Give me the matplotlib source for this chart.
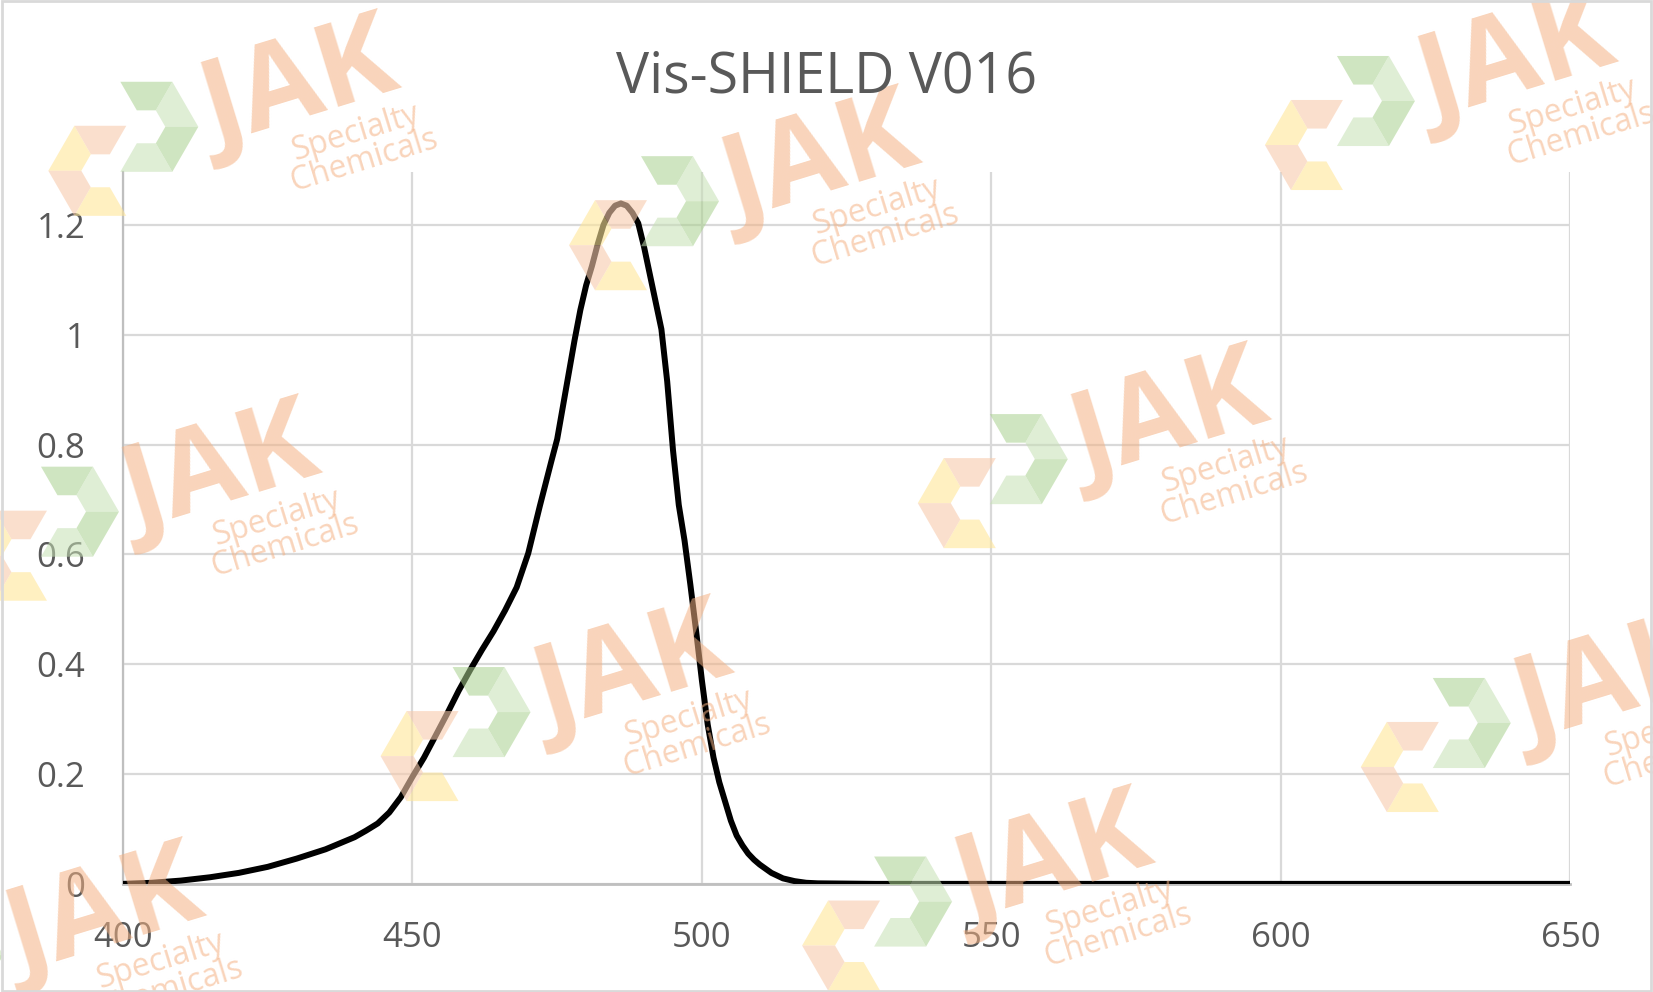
# -*- coding:utf-8 -*-
import matplotlib

matplotlib.use('Agg')

import numpy as np
import matplotlib.pyplot as plt
from matplotlib.patches import Rectangle, Polygon

plt.rcParams['font.family'] = ['Open Sans', 'DejaVu Sans']

# 光谱数据 (nm, 吸光度)
wavelength = [400, 405, 410, 415, 420, 425, 430, 435, 440, 442, 444, 446, 448, 450, 452,
              454, 456, 458, 460, 462, 464, 466, 468, 470, 472, 474, 475, 476, 477, 478,
              479, 480, 481, 482, 483, 484, 485, 486, 487, 488, 489, 490, 491, 492, 493,
              494, 495, 496, 497, 498, 499, 500, 501, 502, 503, 504, 505, 506, 507, 508,
              509, 510, 512, 514, 516, 518, 520, 530, 550, 600, 650]
absorbance = [0.0, 0.002, 0.006, 0.012, 0.02, 0.031, 0.046, 0.063, 0.085, 0.097, 0.11,
              0.13, 0.158, 0.195, 0.23, 0.27, 0.31, 0.352, 0.39, 0.426, 0.46, 0.498, 0.54,
              0.602, 0.688, 0.77, 0.81, 0.87, 0.93, 0.99, 1.045, 1.09, 1.125, 1.165, 1.2,
              1.222, 1.235, 1.239, 1.235, 1.222, 1.203, 1.16, 1.11, 1.06, 1.01, 0.915, 0.79,
              0.69, 0.625, 0.545, 0.46, 0.37, 0.29, 0.23, 0.185, 0.15, 0.115, 0.088, 0.07,
              0.055, 0.044, 0.035, 0.02, 0.01, 0.005, 0.002, 0.001, 0.0, 0.0, 0.0, 0.0]

x_ticks = [400, 450, 500, 550, 600, 650]
y_ticks = [0, 0.2, 0.4, 0.6, 0.8, 1.0, 1.2]
y_tick_labels = ['0', '0.2', '0.4', '0.6', '0.8', '1', '1.2']
title = 'Vis-SHIELD V016'

# 水印 "JAK" 中心位置 (figure 坐标)
marks = [(0.182, 0.910), (0.497, 0.835), (0.134, 0.522), (0.708, 0.575), (0.383, 0.320),
         (0.976, 0.309), (0.064, 0.075), (0.638, 0.129), (0.918, 0.936)]

W, H = 1653, 992

fig = plt.figure(figsize=(W / 100, H / 100), dpi=100)
ax = fig.add_axes([0.0744, 0.109, 0.8756, 0.718])


def hex_segment(cx, cy, r_out, r_in, a0, a1):
    pts = []
    for a in (a0, a1):
        t = np.radians(a)
        pts.append((cx + r_out * np.cos(t), cy + r_out * np.sin(t)))
    for a in (a1, a0):
        t = np.radians(a)
        pts.append((cx + r_in * np.cos(t), cy + r_in * np.sin(t)))
    return [(px / W, py / H) for px, py in pts]


def draw_logo(cx, cy):
    # cx, cy: 像素坐标 (y 向上)
    r_out, r_in = 52, 19
    ox, oy = cx - 22, cy - 22
    gx, gy = cx + 24, cy + 22
    orange = [(60, 120, '#F8CBAD'), (120, 180, '#FFE699'), (180, 240, '#F8CBAD'),
              (240, 300, '#FFE699')]
    green = [(60, 120, '#A9D18E'), (0, 60, '#C5E0B4'), (-60, 0, '#A9D18E'),
             (-120, -60, '#C5E0B4')]
    for a0, a1, c in orange:
        fig.patches.append(Polygon(hex_segment(ox, oy, r_out, r_in, a0, a1),
                                   transform=fig.transFigure, facecolor=c, edgecolor='none',
                                   alpha=0.6, zorder=0))
    for a0, a1, c in green:
        fig.patches.append(Polygon(hex_segment(gx, gy, r_out, r_in, a0, a1),
                                   transform=fig.transFigure, facecolor=c, edgecolor='none',
                                   alpha=0.55, zorder=0))


for mx, my in marks:
    fig.text(mx, my, 'JAK', fontsize=84, fontweight='bold', color='#F4B183', alpha=0.55,
             rotation=17, ha='center', va='center', zorder=0)
    fig.text(mx + 0.036, my - 0.058, 'Specialty\nChemicals', fontsize=23, color='#F4B183',
             alpha=0.55, rotation=17, ha='center', va='center', linespacing=0.85, zorder=0)
    draw_logo((mx - 0.108) * W, (my - 0.06) * H)

ax.plot(wavelength, absorbance, color='black', lw=4.3, zorder=3,
        solid_joinstyle='round', solid_capstyle='round')

ax.set_xlim(400, 650)
ax.set_ylim(0, 1.297)
ax.set_xticks(x_ticks)
ax.set_yticks(y_ticks)
ax.set_yticklabels(y_tick_labels)
ax.tick_params(axis='both', length=0, labelsize=25, labelcolor='#595959')
ax.tick_params(axis='y', pad=27)
ax.tick_params(axis='x', pad=27)
ax.grid(True, color='#D9D9D9', lw=1.6)
ax.set_axisbelow(True)
ax.patch.set_alpha(0)
for side in ['top', 'right']:
    ax.spines[side].set_visible(False)
ax.spines['left'].set_color('#BFBFBF')
ax.spines['left'].set_linewidth(1.6)
ax.spines['bottom'].set_color('#BFBFBF')
ax.spines['bottom'].set_linewidth(2)

fig.text(0.5, 0.921, title, fontsize=40, color='#595959', ha='center', va='center')
fig.patches.append(Rectangle((0.001, 0.001), 0.998, 0.998, transform=fig.transFigure,
                             fill=False, edgecolor='#D9D9D9', lw=2))

plt.savefig('out.png')
